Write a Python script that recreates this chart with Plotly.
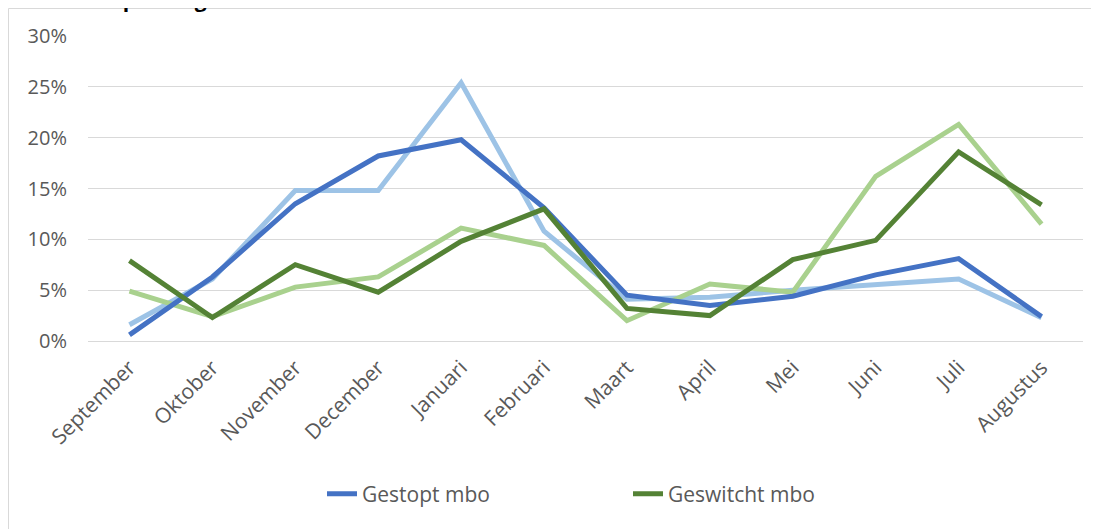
import plotly.graph_objs as go

# months of the school year
months = ["September", "Oktober", "November", "December", "Januari", "Februari",
          "Maart", "April", "Mei", "Juni", "Juli", "Augustus"]

# shares per month
gestopt_mbo = [0.006, 0.063, 0.135, 0.182, 0.198, 0.131, 0.045, 0.035, 0.044, 0.065, 0.081, 0.024]
gestopt_licht = [0.016, 0.061, 0.148, 0.148, 0.254, 0.108, 0.041, 0.043, 0.050, 0.056, 0.061, 0.023]
geswitcht_mbo = [0.079, 0.023, 0.075, 0.048, 0.098, 0.130, 0.032, 0.025, 0.080, 0.099, 0.186, 0.134]
geswitcht_licht = [0.049, 0.024, 0.053, 0.063, 0.111, 0.094, 0.020, 0.056, 0.048, 0.162, 0.213, 0.115]

tick_y = [0, 0.05, 0.10, 0.15, 0.20, 0.25, 0.30]
tick_y_text = ["0%", "5%", "10%", "15%", "20%", "25%", "30%"]

grey = "#595959"
font = "Open Sans"

# plot area in screen pixels; the page body adds an 8px margin
OFF = 8
L, R, T, B = 88, 1083, 36, 341
W, H = R - L, B - T
def px(x):
  return (x - L) / W
def py(y):
  return (B - y) / H

series = [
  (gestopt_licht, "#9DC3E6", "Gestopt", False),
  (geswitcht_licht, "#A9D18E", "Geswitcht", False),
  (gestopt_mbo, "#4472C4", "Gestopt mbo", True),
  (geswitcht_mbo, "#548235", "Geswitcht mbo", True),
]

fig = go.Figure()
for vals, col, name, leg in series:
  fig.add_trace(go.Scatter(x=months, y=vals, mode="lines", name=name,
                           line={"color": col, "width": 5},
                           showlegend=leg, hoverinfo="skip"))

# legend order: Gestopt mbo first
fig.data[2].legendrank = 1
fig.data[3].legendrank = 2

fig.update_layout(
  width=1099, height=529,
  paper_bgcolor="white", plot_bgcolor="white",
  margin={"l": L - OFF, "r": 1099 - (R - OFF), "t": T - OFF, "b": 529 - (B - OFF), "autoexpand": False},
  font={"family": font, "color": grey, "size": 20},
  legend={"orientation": "h", "x": px(322), "xanchor": "left", "y": py(494), "yanchor": "middle",
          "font": {"size": 21, "color": grey}, "entrywidth": 261, "traceorder": "normal"},
  xaxis={"range": [-0.5, 11.5], "showgrid": False, "tickangle": -45, "automargin": False,
         "showline": True, "linecolor": "#D9D9D9", "linewidth": 1, "ticklabelstandoff": 5,
         "ticks": "", "tickfont": {"size": 21, "color": grey}, "fixedrange": True},
  yaxis={"range": [0, 0.30], "tickvals": tick_y, "ticktext": tick_y_text, "automargin": False,
         "gridcolor": "#D9D9D9", "gridwidth": 1, "zeroline": False, "showline": False,
         "ticklabelstandoff": 20, "tickfont": {"size": 20, "color": grey}, "fixedrange": True},
  # chart frame (right and bottom edges fall outside the picture)
  shapes=[{"type": "rect", "xref": "paper", "yref": "paper",
           "x0": px(OFF + 0.5), "x1": px(1130), "y0": py(560), "y1": py(OFF + 0.5),
           "line": {"color": "#D9D9D9", "width": 1}, "fillcolor": "rgba(0,0,0,0)", "layer": "below"}],
  # title of the chart: only its lower edge is inside the picture, as in the source
  annotations=[{"text": "<b>naar vooropleiding</b>", "xref": "paper", "yref": "paper",
                "x": px(6), "y": py(15), "xanchor": "left", "yanchor": "bottom",
                "showarrow": False, "font": {"family": font, "size": 21, "color": "black"}}],
)

fig.write_html("out.html")
